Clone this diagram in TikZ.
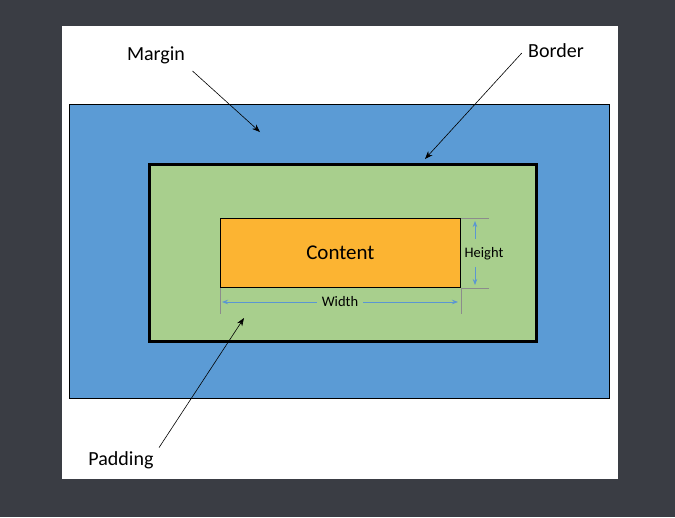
\documentclass[tikz,border=0pt]{standalone}
\usepackage{fontspec}
\setmainfont{Carlito}
\usetikzlibrary{arrows.meta}
\definecolor{pagebg}{RGB}{58,61,68}
\definecolor{marginblue}{RGB}{91,155,213}
\definecolor{paddinggreen}{RGB}{168,207,141}
\definecolor{contentorange}{RGB}{252,180,50}
\definecolor{dimblue}{RGB}{91,150,210}

\begin{document}
\begin{tikzpicture}[x=1pt, y=-1pt]
\tikzset{box/.style={draw=black, rectangle, inner sep=0pt, anchor=north west}}
\tikzset{label text/.style={font=\fontsize{20}{24}\selectfont, anchor=base}}
\tikzset{dim text/.style={font=\fontsize{14.5}{16}\selectfont, anchor=base, fill=paddinggreen, inner xsep=5pt}}
\tikzset{pointer/.style={draw=black, line width=0.6pt, -{Stealth[length=8pt, width=6pt]}}}
\tikzset{dim line/.style={draw=dimblue, line width=0.8pt, {Stealth[length=6pt, width=4.5pt]}-{Stealth[length=6pt, width=4.5pt]}}}
\tikzset{tick line/.style={draw=black!45, line width=0.4pt}}
%\useasboundingbox (0,0) rectangle (675,517);
\fill[pagebg] (0,0) rectangle (675,517);
\fill[white] (62,26) rectangle (618,479);
\node[box, fill=marginblue, line width=0.6pt, minimum width=540pt, minimum height=294pt] (marginbox) at (69,104) {};
\node[box, fill=paddinggreen, line width=2.6pt, minimum width=387pt, minimum height=177pt] (borderbox) at (148,163) {};
\node[box, fill=contentorange, line width=0.8pt, minimum width=240pt, minimum height=69pt,
  font=\fontsize{21}{24}\selectfont] (content) at (220,218) {Content};
% dimension lines
\draw[tick line] (content.south west) -- +(0,26) coordinate (wleft);
\draw[tick line] (content.south east) -- +(0,26) coordinate (wright);
\draw[tick line] (content.north east) -- +(28,0) coordinate (htop);
\draw[tick line] (content.south east) -- +(28,0) coordinate (hbottom);
\coordinate (wa) at (222,302);
\coordinate (wb) at (458,302);
\coordinate (ha) at (475,221);
\coordinate (hb) at (475,285);
\draw[dim line] (wa) -- (wb);
\draw[dim line] (ha) -- (hb);
\node[dim text] (widthlbl) at (340,306) {Width};
\node[dim text, inner ysep=8pt, inner xsep=1pt] (heightlbl) at (484,257) {Height};
% labels
\node[label text] (marginlbl) at (156,60) {Margin};
\node[label text] (borderlbl) at (556,57) {Border};
\node[label text] (paddinglbl) at (121,465) {Padding};
\coordinate (margintip) at (260,132);
\coordinate (bordertip) at (425,159);
\coordinate (paddingtip) at (244,318);
\draw[pointer] ([xshift=4pt, yshift=-4pt]marginlbl.south east) -- (margintip);
\draw[pointer] ([xshift=-3pt, yshift=-3pt]borderlbl.west) -- (bordertip);
\draw[pointer] ([xshift=2pt]paddinglbl.north east) -- (paddingtip);
\end{tikzpicture}
\end{document}
